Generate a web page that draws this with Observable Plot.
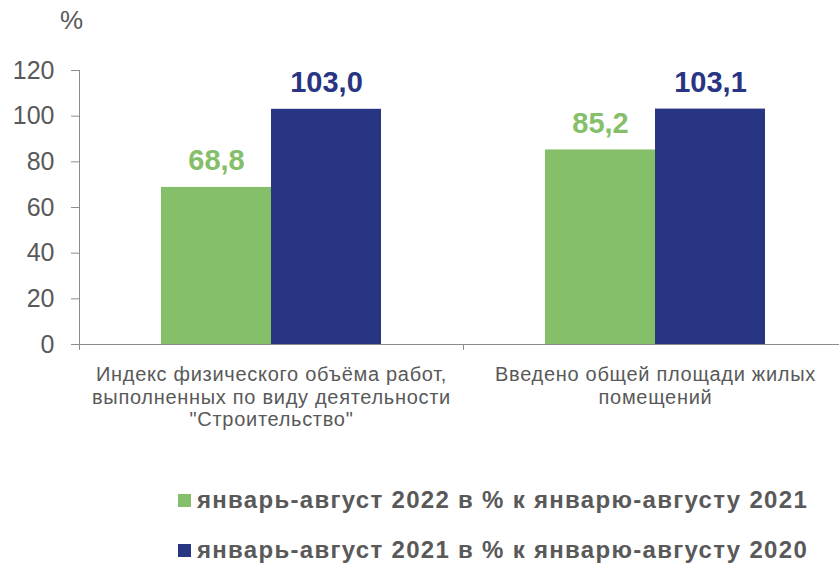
<!DOCTYPE html>
<html>
<head>
<meta charset="utf-8">
<script src="https://cdn.jsdelivr.net/npm/d3@7"></script>
<script src="https://cdn.jsdelivr.net/npm/@observablehq/plot@0.6"></script>
<style>
  html, body { margin: 0; padding: 0; background: #fff; }
  #wrap { position: relative; width: 839px; height: 565px; font-family: "Liberation Sans", Arial, sans-serif; color: #595959; overflow: hidden; }
  #unit { position: absolute; left: 60px; top: 5px; font-size: 26px; }
  #legend { position: absolute; left: 178px; top: 475px; }
  .row { display: flex; align-items: center; height: 50px; font-weight: bold; font-size: 24px; letter-spacing: 1.3px; white-space: nowrap; }
  .sw { width: 13px; height: 13px; margin-right: 6px; flex: none; }
  g[aria-label="fx-axis tick label"] { letter-spacing: 0.7px; }
</style>
</head>
<body>
<div id="wrap">
  <div id="chart"></div>
  <div id="unit">%</div>
  <div id="legend"></div>
</div>
<script>
const categories = [
  "Индекс физического объёма работ,\nвыполненных по виду деятельности\n\"Строительство\"",
  "Введено общей площади жилых\nпомещений"
];
const series = [
  "январь-август 2022 в % к январю-августу 2021",
  "январь-август 2021 в % к январю-августу 2020"
];
const values2022 = [68.8, 85.2];
const values2021 = [103.0, 103.1];
const yTicks = [0, 20, 40, 60, 80, 100, 120];
const colors = ["#86bf6a", "#283583"];

const textColor = "#595959";
const axisColor = "#8c8c8c";
const W = 839, H = 450, mL = 79, mR = -8, mT = 70, mB = 106;
const facetW = (W - mL - mR) / categories.length;
const tickDepth = 2.6;

const data = categories.flatMap((c, i) => [
  {cat: c, series: series[0], value: values2022[i]},
  {cat: c, series: series[1], value: values2021[i]}
]);
const fmt = d => d.value.toFixed(1).replace(".", ",");

const chart = Plot.plot({
  width: W, height: H,
  marginLeft: mL, marginRight: mR, marginTop: mT, marginBottom: mB,
  style: {fontFamily: "'Liberation Sans', Arial, sans-serif", color: textColor, background: "transparent", overflow: "visible"},
  fx: {domain: categories, padding: 0, label: null},
  x: {domain: series, paddingInner: 0, paddingOuter: 0.745, axis: null},
  y: {domain: [0, 120], label: null},
  color: {domain: series, range: colors},
  marks: [
    Plot.barY(data, {fx: "cat", x: "series", y: "value", fill: "series"}),
    Plot.text(data, {fx: "cat", x: "series", y: "value", text: fmt, fill: "series",
      fontWeight: "bold", fontSize: 29, lineAnchor: "bottom", dy: -17}),
    Plot.ruleY([0], {stroke: axisColor, strokeWidth: 1}),
    Plot.ruleX([categories[0]], {fx: d => d, x: null, y1: 0, y2: 120, dx: -facetW / 2, stroke: axisColor}),
    Plot.ruleX(categories, {fx: d => d, x: null, y1: 0, y2: -tickDepth, dx: -facetW / 2, stroke: axisColor}),
    Plot.axisY({ticks: yTicks, tickSize: 8, tickPadding: 17, fontSize: 25, stroke: axisColor, fill: textColor, label: null}),
    Plot.axisFx({anchor: "bottom", tickSize: 0, tickPadding: 21, fontSize: 20, lineHeight: 1.12, fill: textColor, label: null})
  ]
});
document.getElementById("chart").appendChild(chart);

const legend = document.getElementById("legend");
series.forEach((s, i) => {
  const row = document.createElement("div");
  row.className = "row";
  const sw = document.createElement("span");
  sw.className = "sw";
  sw.style.background = colors[i];
  const t = document.createElement("span");
  t.textContent = s;
  row.appendChild(sw);
  row.appendChild(t);
  legend.appendChild(row);
});
</script>
</body>
</html>
